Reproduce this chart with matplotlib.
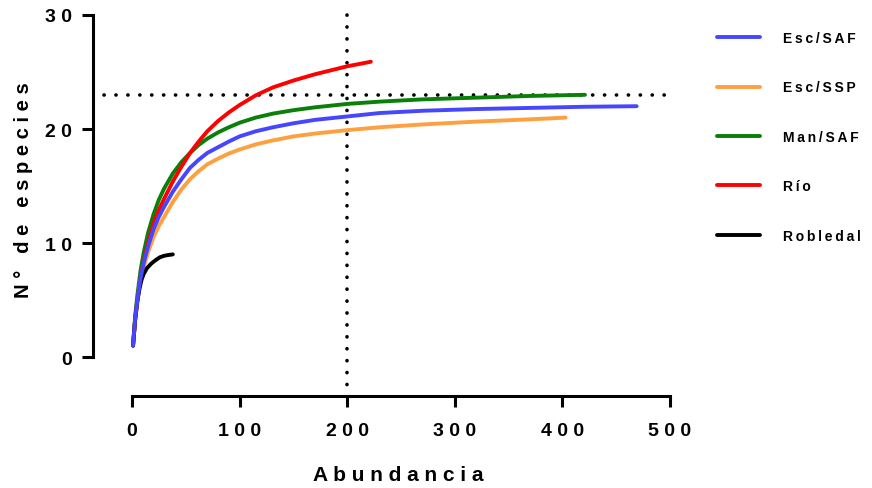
import matplotlib
matplotlib.use("Agg")
import matplotlib.pyplot as plt

plt.rcParams['font.family'] = ['Liberation Sans', 'DejaVu Sans']
plt.rcParams['font.weight'] = 'bold'

# rarefaction curves
esc_saf_x = [1, 3, 5, 8, 11, 15, 20, 25, 30, 38, 46, 54, 62, 70, 80, 90, 100, 115, 131,
             150, 170, 200, 230, 270, 320, 370, 420, 469]
esc_saf_y = [1.0, 3.4, 5.0, 6.9, 8.3, 9.7, 11.2, 12.3, 13.2, 14.5, 15.6, 16.6, 17.3, 17.9,
             18.4, 18.9, 19.35, 19.8, 20.15, 20.5, 20.8, 21.1, 21.4, 21.6, 21.75, 21.85,
             21.95, 22.0]

esc_ssp_x = [1, 3, 5, 8, 11, 15, 20, 25, 30, 38, 46, 54, 62, 70, 80, 90, 100, 115, 131,
             150, 170, 200, 230, 270, 320, 370, 403]
esc_ssp_y = [1.0, 3.3, 4.9, 6.7, 7.9, 9.2, 10.5, 11.5, 12.3, 13.6, 14.7, 15.6, 16.3, 16.9,
             17.4, 17.85, 18.2, 18.65, 19.0, 19.35, 19.6, 19.9, 20.15, 20.4, 20.65, 20.85,
             21.0]

man_saf_x = [1, 3, 5, 8, 11, 15, 20, 25, 30, 38, 46, 54, 62, 70, 80, 90, 100, 115, 131,
             150, 170, 200, 230, 270, 320, 370, 421]
man_saf_y = [1.0, 3.6, 5.4, 7.6, 9.2, 10.9, 12.5, 13.8, 14.8, 16.1, 17.1, 17.9, 18.6, 19.15,
             19.7, 20.15, 20.55, 21.0, 21.35, 21.65, 21.9, 22.2, 22.4, 22.6, 22.75, 22.9,
             23.0]

rio_x = [1, 3, 5, 8, 11, 15, 20, 25, 30, 38, 46, 54, 62, 70, 80, 90, 100, 115, 131,
         150, 170, 200, 222]
rio_y = [1.0, 3.3, 4.9, 6.9, 8.4, 10.0, 11.7, 12.9, 13.9, 15.4, 16.7, 17.9, 18.9, 19.8,
         20.7, 21.45, 22.1, 22.95, 23.65, 24.25, 24.8, 25.5, 25.9]

robledal_x = [1, 3, 5, 7, 9, 11, 14, 18, 22, 26, 30, 34, 38]
robledal_y = [1.0, 3.3, 4.9, 6.0, 6.8, 7.3, 7.8, 8.2, 8.5, 8.75, 8.88, 8.95, 9.0]

labels = ['Esc/SAF', 'Esc/SSP', 'Man/SAF', 'Río', 'Robledal']
colors = ['#4646FF', '#FFA040', '#0A800A', '#FF0000', '#000000']
layer = [6, 4, 2, 3, 5]   # blue ends up on top near the origin
xticks = [0, 100, 200, 300, 400, 500]
yticks = [0, 10, 20, 30]
ref_x = 200
ref_y = 23


def spaced(s, gap=' '):
    # prism style letter spacing
    return gap.join(s)


fig = plt.figure(figsize=(8.72, 4.89), dpi=100)
ax = fig.add_axes([93 / 872, 1 - 397 / 489, 577 / 872, 381 / 489])

series = [(esc_saf_x, esc_saf_y), (esc_ssp_x, esc_ssp_y), (man_saf_x, man_saf_y),
          (rio_x, rio_y), (robledal_x, robledal_y)]
for (xs, ys), lab, col, z in zip(series, labels, colors, layer):
    ax.plot(xs, ys, color=col, lw=2.8, label=spaced(lab, '\u2009'), zorder=z,
            solid_capstyle='round', solid_joinstyle='round')

# reference lines
dots = (0, (0.05, 3.25))
ax.plot([-26, 497], [ref_y, ref_y], color='black', lw=2.6,
        linestyle=dots, dash_capstyle='round', clip_on=False, zorder=1)
ax.plot([ref_x, ref_x], [30, -3.4], color='black', lw=2.6,
        linestyle=dots, dash_capstyle='round', clip_on=False, zorder=1)

ax.set_xlim(-36.2, 500)
ax.set_ylim(-3.42, 30)

for side in ['top', 'right']:
    ax.spines[side].set_visible(False)
ax.spines['left'].set_bounds(0, 30)
ax.spines['bottom'].set_bounds(0, 500)
ax.spines['left'].set_linewidth(2.2)
ax.spines['bottom'].set_linewidth(2.2)

ax.set_xticks(xticks)
ax.set_yticks(yticks)
ax.set_xticklabels([spaced(str(t)) for t in xticks])
ax.set_yticklabels([spaced(str(t)) for t in yticks])
ax.tick_params(axis='both', length=8, width=2.2, labelsize=14)
ax.tick_params(axis='x', pad=11)
ax.tick_params(axis='y', pad=7)

ax.set_xlabel(spaced('Abundancia'), fontsize=15, fontweight='bold')
ax.xaxis.set_label_coords(0.529, -0.181)
ax.set_ylabel(spaced('N° de especies'), fontsize=14.5, fontweight='bold')
ax.yaxis.set_label_coords(-0.104, 0.543)

ax.legend(loc='upper left', bbox_to_anchor=(717 / 872, 1 - 32 / 489),
          bbox_transform=fig.transFigure, frameon=False, fontsize=10,
          handlelength=3.1, handletextpad=1.65, labelspacing=2.55,
          borderpad=0, borderaxespad=0)

fig.savefig('out.png', dpi=100)
